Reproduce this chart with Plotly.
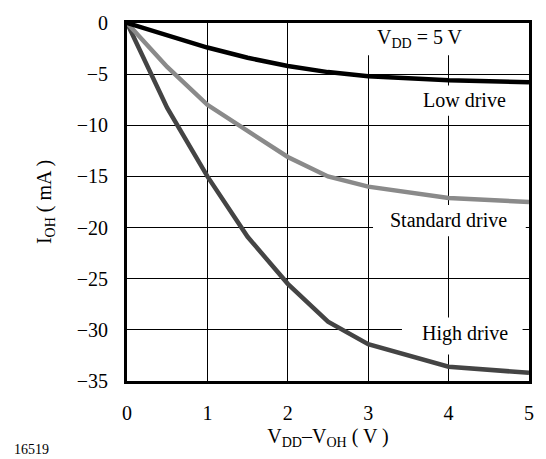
import plotly.graph_objects as go

# Data
v_diff = [0, 0.5, 1, 1.5, 2, 2.5, 3, 4, 5]
low_drive = [0, -1.2, -2.4, -3.4, -4.2, -4.8, -5.2, -5.6, -5.8]
standard_drive = [0, -4.3, -8.0, -10.6, -13.1, -15.0, -16.0, -17.1, -17.5]
high_drive = [0, -8.3, -15.0, -20.9, -25.5, -29.2, -31.4, -33.6, -34.2]

x_ticks = [0, 1, 2, 3, 4, 5]
y_ticks = [0, -5, -10, -15, -20, -25, -30, -35]
y_tick_text = ["0", "\u22125", "\u221210", "\u221215", "\u221220", "\u221225", "\u221230", "\u221235"]

FONT = "Times New Roman, Liberation Serif, DejaVu Serif, serif"

fig = go.Figure()
fig.add_trace(go.Scatter(x=v_diff, y=high_drive, mode="lines",
                         line=dict(color="#444444", width=4.5), name="High drive"))
fig.add_trace(go.Scatter(x=v_diff, y=standard_drive, mode="lines",
                         line=dict(color="#8a8a8a", width=4.5), name="Standard drive"))
fig.add_trace(go.Scatter(x=v_diff, y=low_drive, mode="lines",
                         line=dict(color="#000000", width=4.5), name="Low drive"))

# white label boxes that interrupt the grid
boxes = [
    (2.84, 4.46, 0.0, -3.16),
    (3.52, 4.92, -6.1, -9.06),
    (3.06, 4.96, -17.8, -20.86),
    (3.42, 4.92, -28.8, -32.4),
]
for x0, x1, y0, y1 in boxes:
    fig.add_shape(type="rect", x0=x0, x1=x1, y0=y0, y1=y1, xref="x", yref="y",
                  fillcolor="white", line=dict(width=0), layer="between")

labels = [
    (3.65, -1.55, "V<sub>DD</sub> = 5 V"),
    (4.2, -7.5, "Low drive"),
    (4.0, -19.3, "Standard drive"),
    (4.2, -30.4, "High drive"),
]
for x, y, t in labels:
    fig.add_annotation(x=x, y=y, xref="x", yref="y", text=t, showarrow=False,
                       font=dict(family=FONT, size=20, color="black"))

fig.add_annotation(x=-0.285, y=-0.19, xref="paper", yref="paper", text="16519",
                   showarrow=False, xanchor="left", yanchor="middle",
                   font=dict(family=FONT, size=14, color="black"))

fig.update_layout(
    width=546, height=459,
    margin=dict(l=127, r=17, t=17, b=78),
    paper_bgcolor="white", plot_bgcolor="white",
    showlegend=False,
    font=dict(family=FONT, size=20, color="black"),
    xaxis=dict(range=[0, 5], tickvals=x_ticks, ticks="", showgrid=True,
               gridcolor="black", gridwidth=1, showline=True, linecolor="black",
               linewidth=3, mirror=True, zeroline=False, ticklabelstandoff=12,
               title=dict(text="V<sub>DD</sub>\u2013V<sub>OH</sub> ( V )",
                          font=dict(family=FONT, size=20), standoff=6)),
    yaxis=dict(range=[-35, 0], tickvals=y_ticks, ticktext=y_tick_text, ticks="",
               showgrid=True, gridcolor="black", gridwidth=1, showline=True,
               linecolor="black", linewidth=3, mirror=True, zeroline=False,
               ticklabelstandoff=12,
               title=dict(text="I<sub>OH</sub> ( mA )",
                          font=dict(family=FONT, size=20), standoff=20)),
)

fig.write_html("out.html", config={"displayModeBar": False},
               post_script="document.body.style.margin='0';document.body.style.padding='0';")
